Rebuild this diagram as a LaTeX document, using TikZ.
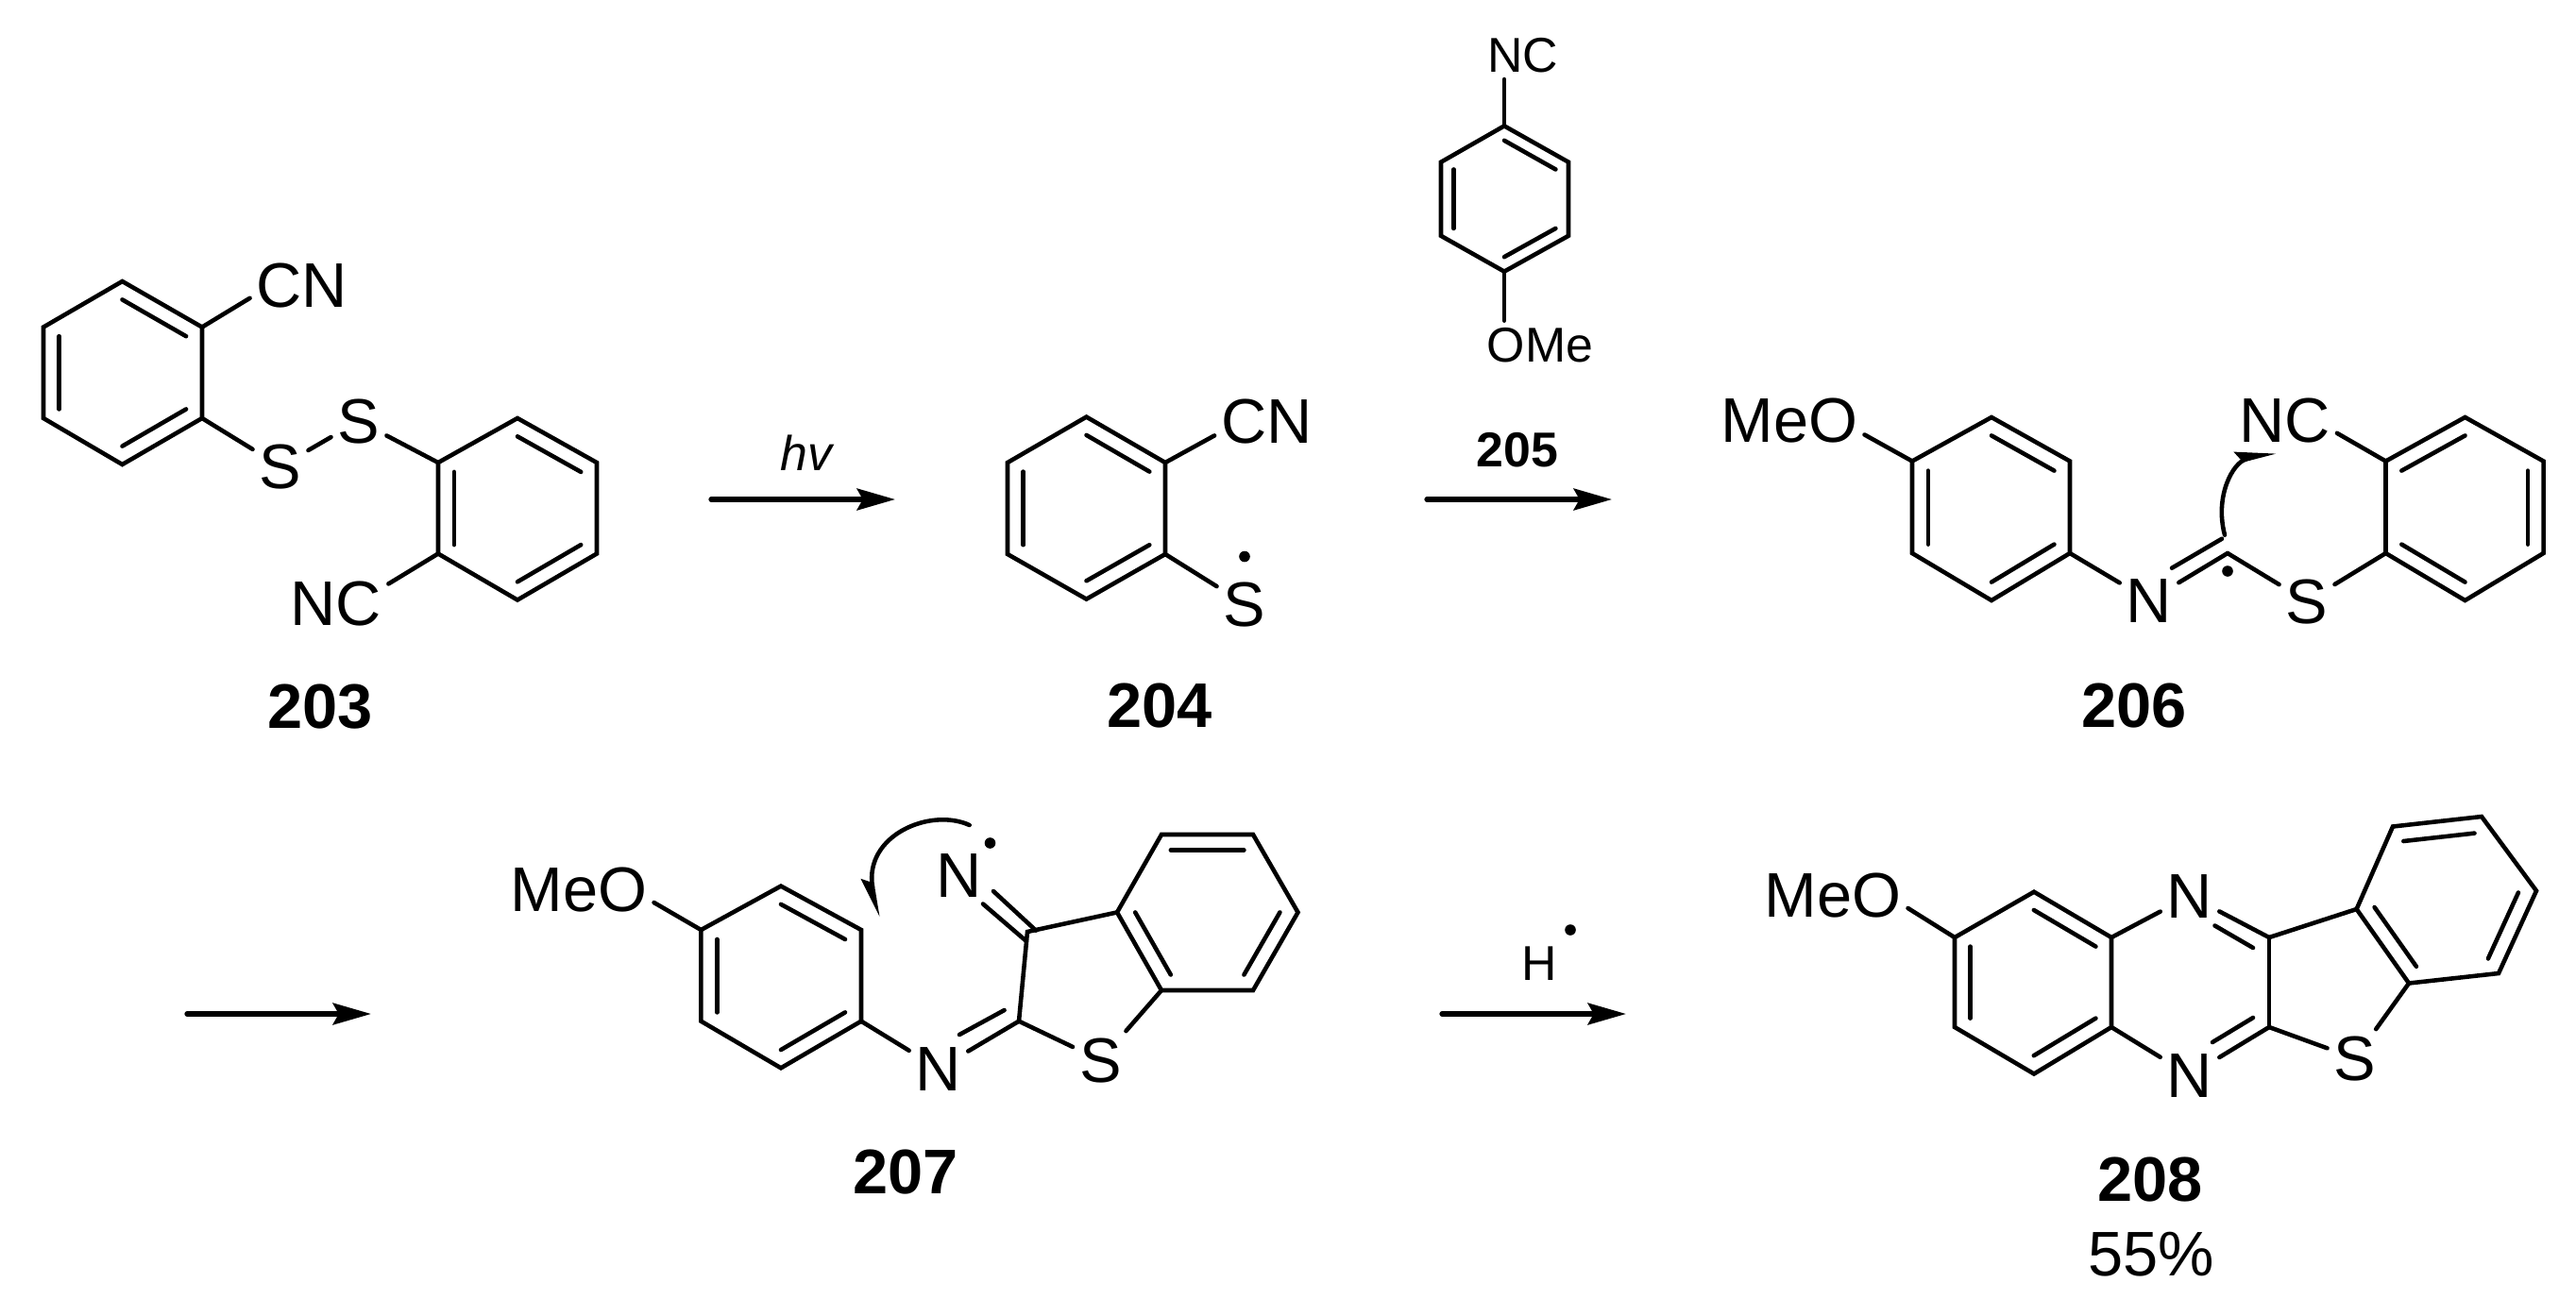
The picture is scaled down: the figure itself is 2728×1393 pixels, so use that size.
\documentclass[tikz,border=0pt]{standalone}
\usepackage{fontspec}
\setmainfont{Liberation Sans}
\usetikzlibrary{calc,arrows.meta}
\tikzset{every path/.style={black,line width=2.6pt,line cap=round},
  atom/.style={inner sep=2.8pt,text height=27pt,text depth=0pt,font=\fontsize{38}{40}\selectfont},
  smallatom/.style={inner sep=2.8pt,text height=21pt,text depth=0pt,font=\fontsize{29.5}{31}\selectfont},
  cmpd/.style={atom,font=\fontsize{38}{40}\selectfont\bfseries},
  radical/.style={circle,fill=black,inner sep=0pt,minimum size=6.6pt},
  reaction/.style={line width=3pt,-{Stealth[length=23pt,width=13pt,inset=3.5pt]}},
  fishhook/.style={-{Stealth[harpoon,length=20pt,width=12pt,inset=3pt]}},
  fishhookb/.style={-{Stealth[harpoon,swap,length=20pt,width=12pt,inset=3pt]}}}
\newcommand{\innerbond}[3]{\draw ($(#1)!0.2!(#3)$) -- ($(#2)!0.2!(#3)$);}
\begin{document}
\begin{tikzpicture}[x=0.02cm,y=-0.02cm]
  \useasboundingbox (0,0) rectangle (2728,1393);
  % 203
  \coordinate (a1) at (129.5,298); \coordinate (a2) at (214,346.5); \coordinate (a3) at (214,443);
  \coordinate (a4) at (129.5,492); \coordinate (a5) at (46,443); \coordinate (a6) at (46,346.5);
  \coordinate (ac) at (129.5,395);
  \coordinate (b1) at (548,443); \coordinate (b2) at (632,490); \coordinate (b3) at (632,586.5);
  \coordinate (b4) at (548,635.5); \coordinate (b5) at (464,586.5); \coordinate (b6) at (464,490);
  \coordinate (bc) at (548,539.5);
  \node[atom] (cna) at (320,302) {CN};
  \node[atom] (sa) at (297,494) {S};
  \node[atom] (sb) at (380,446) {S};
  \node[atom] (ncb) at (356,638.6) {NC};
  \node[cmpd] (n203) at (339,748) {203};
  \draw (a1) -- (a2) -- (a3) -- (a4) -- (a5) -- (a6) -- cycle;
  \draw (b1) -- (b2) -- (b3) -- (b4) -- (b5) -- (b6) -- cycle;
  \innerbond{a1}{a2}{ac} \innerbond{a3}{a4}{ac} \innerbond{a5}{a6}{ac}
  \innerbond{b1}{b2}{bc} \innerbond{b3}{b4}{bc} \innerbond{b5}{b6}{bc}
  \draw (a2) -- (cna.194);
  \draw (a3) -- (sa);
  \draw (sa) -- (sb);
  \draw (sb) -- (b6);
  \draw (b5) -- (ncb.20);
  % first arrow
  \coordinate (r1s) at (753,529); \coordinate (r1e) at (948,529);
  \draw[reaction] (r1s) -- (r1e);
  \node[smallatom,font=\fontsize{29.5}{31}\selectfont\itshape] (hv) at (854,480) {hv};
  % 204
  \coordinate (c1) at (1150.5,441.6); \coordinate (c2) at (1234,490); \coordinate (c3) at (1234,587);
  \coordinate (c4) at (1150.5,634.6); \coordinate (c5) at (1067,587); \coordinate (c6) at (1067,490);
  \coordinate (cc) at (1150.5,538);
  \node[atom] (cnc) at (1341.5,445.5) {CN};
  \node[atom] (sc) at (1318,639.5) {S};
  \node[radical] (dotc) at (1318,589.5) {};
  \node[cmpd] (n204) at (1228,747) {204};
  \draw (c1) -- (c2) -- (c3) -- (c4) -- (c5) -- (c6) -- cycle;
  \innerbond{c1}{c2}{cc} \innerbond{c3}{c4}{cc} \innerbond{c5}{c6}{cc}
  \draw (c2) -- (cnc.196);
  \draw (c3) -- (sc);
  % 205 over the second arrow
  \coordinate (d1) at (1593,133.4); \coordinate (d2) at (1661,171.7); \coordinate (d3) at (1661,249.8);
  \coordinate (d4) at (1593,287.6); \coordinate (d5) at (1526,249.8); \coordinate (d6) at (1526,171.7);
  \coordinate (dc) at (1593,210.5);
  \node[smallatom] (ncd) at (1612.7,58.4) {NC};
  \node[smallatom] (omed) at (1631,365.3) {OMe};
  \node[smallatom,font=\fontsize{29.5}{31}\selectfont\bfseries] (n205) at (1607,476) {205};
  \draw (d1) -- (d2) -- (d3) -- (d4) -- (d5) -- (d6) -- cycle;
  \innerbond{d1}{d2}{dc} \innerbond{d3}{d4}{dc} \innerbond{d5}{d6}{dc}
  \draw (d1) -- (d1 |- ncd.south);
  \draw (d4) -- (d4 |- omed.north);
  \coordinate (r2s) at (1511,529); \coordinate (r2e) at (1707,529);
  \draw[reaction] (r2s) -- (r2e);
  % 206
  \coordinate (e1) at (2109,442); \coordinate (e2) at (2192,488.5); \coordinate (e3) at (2192,586);
  \coordinate (e4) at (2109,636); \coordinate (e5) at (2025,586); \coordinate (e6) at (2025,488.5);
  \coordinate (ec) at (2109,539);
  \coordinate (f1) at (2610.5,442); \coordinate (f2) at (2693.5,488.5); \coordinate (f3) at (2693.5,586);
  \coordinate (f4) at (2610.5,636); \coordinate (f5) at (2526.5,586); \coordinate (f6) at (2526.5,488.5);
  \coordinate (fc) at (2610.5,539);
  \coordinate (cf) at (2359,586);
  \coordinate (eqa) at (2300,601.7); \coordinate (eqb) at (2353,570.7);
  \node[atom] (meoe) at (1895,445) {MeO};
  \node[atom] (ne) at (2276,636) {N};
  \node[atom] (sf) at (2443,637) {S};
  \node[atom] (ncf) at (2419.5,445) {NC};
  \node[radical] (dotf) at (2359,605) {};
  \node[cmpd] (n206) at (2260,747) {206};
  \draw (e1) -- (e2) -- (e3) -- (e4) -- (e5) -- (e6) -- cycle;
  \draw (f1) -- (f2) -- (f3) -- (f4) -- (f5) -- (f6) -- cycle;
  \innerbond{e1}{e2}{ec} \innerbond{e3}{e4}{ec} \innerbond{e5}{e6}{ec}
  \innerbond{f6}{f1}{fc} \innerbond{f2}{f3}{fc} \innerbond{f4}{f5}{fc}
  \draw (e6) -- (meoe.349);
  \draw (e3) -- (ne);
  \draw (ne) -- (cf);
  \draw (eqa) -- (eqb);
  \draw (cf) -- (sf);
  \draw (sf) -- (f5);
  \draw (f6) -- (ncf.346);
  \coordinate (cva) at (2356,566.7); \coordinate (cvb) at (2410,478.3);
  \draw[fishhook] (cva) .. controls (2345,525) and (2365,490) .. (cvb);
  % second row, left arrow
  \coordinate (r3s) at (198,1074); \coordinate (r3e) at (393,1074);
  \draw[reaction] (r3s) -- (r3e);
  % 207
  \coordinate (g1) at (827,938.6); \coordinate (g2) at (912,985); \coordinate (g3) at (912,1081.7);
  \coordinate (g4) at (827,1131.3); \coordinate (g5) at (742.4,1081.7); \coordinate (g6) at (742.4,985);
  \coordinate (gc) at (827,1035);
  \coordinate (h1) at (1230,884); \coordinate (h2) at (1327,884); \coordinate (h3) at (1374.5,966.4);
  \coordinate (h4) at (1327,1049); \coordinate (h5) at (1230,1049); \coordinate (h6) at (1183,966.4);
  \coordinate (hc) at (1279,966.5);
  \coordinate (cga) at (1079,1081.7); \coordinate (cgb) at (1088,987);
  \coordinate (eqc) at (1016,1096); \coordinate (eqd) at (1063.6,1070);
  \coordinate (eqe) at (1052,944); \coordinate (eqf) at (1097,985.6);
  \coordinate (eqg) at (1041,957.5); \coordinate (eqh) at (1087,997);
  \node[atom] (meog) at (613,942) {MeO};
  \node[atom] (ng) at (994,1132) {N};
  \node[atom] (sh) at (1165.5,1123) {S};
  \node[atom] (nh) at (1016,926.7) {N};
  \node[radical] (doth) at (1048.5,893) {};
  \node[cmpd] (n207) at (959,1240.6) {207};
  \draw (g1) -- (g2) -- (g3) -- (g4) -- (g5) -- (g6) -- cycle;
  \draw (h1) -- (h2) -- (h3) -- (h4) -- (h5) -- (h6) -- cycle;
  \innerbond{g1}{g2}{gc} \innerbond{g3}{g4}{gc} \innerbond{g5}{g6}{gc}
  \innerbond{h1}{h2}{hc} \innerbond{h3}{h4}{hc} \innerbond{h5}{h6}{hc}
  \draw (g6) -- (meog.350);
  \draw (g3) -- (ng);
  \draw (ng) -- (cga);
  \draw (eqc) -- (eqd);
  \draw (cga) -- (cgb) -- (h6);
  \draw (cga) -- (sh);
  \draw (sh) -- (h5);
  \draw (eqe) -- (eqf);
  \draw (eqg) -- (eqh);
  \coordinate (cvc) at (1026.7,874); \coordinate (cvd) at (929.3,971.7);
  \draw[fishhookb] (cvc) .. controls (985,855) and (915,885) .. (cvd);
  % last arrow
  \coordinate (r4s) at (1527,1074); \coordinate (r4e) at (1722,1074);
  \draw[reaction] (r4s) -- (r4e);
  \node[smallatom] (hr) at (1630,1020) {H};
  \node[radical] (dotr) at (1663,985) {};
  % 208
  \coordinate (k1) at (2154,944.7); \coordinate (k2) at (2236,993); \coordinate (k3) at (2236,1088);
  \coordinate (k4) at (2154,1137.5); \coordinate (k5) at (2070,1088); \coordinate (k6) at (2070,993);
  \coordinate (kc) at (2153,1041);
  \coordinate (m1) at (2534,875.5); \coordinate (m2) at (2628,865); \coordinate (m3) at (2686,943.6);
  \coordinate (m4) at (2646,1031); \coordinate (m5) at (2551,1041.5); \coordinate (m6) at (2495.6,963);
  \coordinate (mc) at (2590.5,953);
  \coordinate (cma) at (2403,993); \coordinate (cmb) at (2403,1088);
  \coordinate (eqi) at (2345.5,980.5); \coordinate (eqj) at (2386,1004);
  \coordinate (eqk) at (2343,1104); \coordinate (eql) at (2386,1078);
  \node[atom] (meok) at (1941,948) {MeO};
  \node[atom] (nka) at (2319,949) {N};
  \node[atom] (nkb) at (2319,1139) {N};
  \node[atom] (sm) at (2494,1121) {S};
  \node[cmpd] (n208) at (2277,1248.6) {208};
  \node[atom] (yield) at (2278,1328) {55\%};
  \draw (k1) -- (k2) -- (k3) -- (k4) -- (k5) -- (k6) -- cycle;
  \draw (m1) -- (m2) -- (m3) -- (m4) -- (m5) -- (m6) -- cycle;
  \innerbond{k1}{k2}{kc} \innerbond{k3}{k4}{kc} \innerbond{k5}{k6}{kc}
  \innerbond{m1}{m2}{mc} \innerbond{m3}{m4}{mc} \innerbond{m5}{m6}{mc}
  \draw (k6) -- (meok.350);
  \draw (k2) -- (nka);
  \draw (k3) -- (nkb);
  \draw (nka) -- (cma);
  \draw (nkb) -- (cmb);
  \draw (eqi) -- (eqj);
  \draw (eqk) -- (eql);
  \draw (cma) -- (cmb);
  \draw (cma) -- (m6);
  \draw (cmb) -- (sm);
  \draw (sm) -- (m5);
\end{tikzpicture}
\end{document}
